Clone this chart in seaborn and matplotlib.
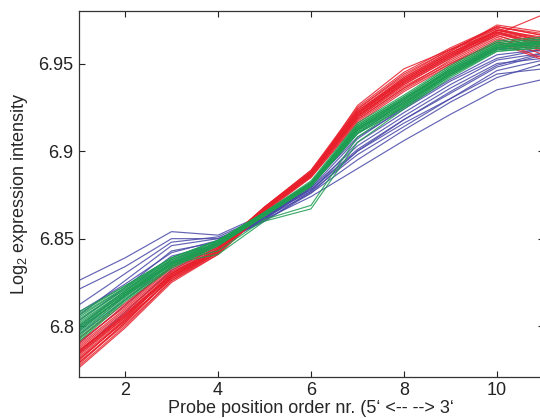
import numpy as np
import pandas as pd
import seaborn as sns
import matplotlib.pyplot as plt

probe_pos = list(range(1, 12))

blue_lines = [
    [6.826, 6.839, 6.854, 6.852, 6.864, 6.878, 6.900, 6.918, 6.933, 6.948, 6.955],
    [6.821, 6.834, 6.850, 6.850, 6.862, 6.876, 6.895, 6.912, 6.928, 6.942, 6.950],
    [6.806, 6.826, 6.846, 6.850, 6.861, 6.874, 6.890, 6.906, 6.921, 6.935, 6.941],
    [6.803, 6.822, 6.843, 6.848, 6.860, 6.877, 6.905, 6.922, 6.938, 6.952, 6.956],
    [6.800, 6.820, 6.840, 6.847, 6.861, 6.879, 6.907, 6.925, 6.941, 6.955, 6.958],
    [6.797, 6.818, 6.838, 6.847, 6.860, 6.876, 6.900, 6.916, 6.930, 6.944, 6.947],
    [6.795, 6.815, 6.836, 6.848, 6.861, 6.880, 6.910, 6.928, 6.944, 6.958, 6.960],
    [6.790, 6.812, 6.834, 6.847, 6.862, 6.879, 6.903, 6.920, 6.936, 6.950, 6.953],
    [6.808, 6.824, 6.842, 6.849, 6.862, 6.881, 6.908, 6.924, 6.940, 6.953, 6.958],
    [6.812, 6.830, 6.848, 6.851, 6.863, 6.877, 6.898, 6.914, 6.930, 6.946, 6.952],
    [6.799, 6.817, 6.836, 6.846, 6.861, 6.882, 6.912, 6.930, 6.946, 6.959, 6.957],
    [6.785, 6.808, 6.832, 6.845, 6.862, 6.878, 6.901, 6.918, 6.934, 6.949, 6.956],
]

red_lines = [
    [6.776, 6.799, 6.825, 6.841, 6.866, 6.886, 6.918, 6.936, 6.952, 6.966, 6.958],
    [6.779, 6.801, 6.826, 6.842, 6.867, 6.887, 6.920, 6.938, 6.953, 6.967, 6.960],
    [6.781, 6.803, 6.828, 6.843, 6.867, 6.888, 6.922, 6.940, 6.955, 6.969, 6.963],
    [6.783, 6.805, 6.829, 6.843, 6.866, 6.886, 6.921, 6.941, 6.956, 6.970, 6.964],
    [6.785, 6.806, 6.830, 6.844, 6.868, 6.888, 6.923, 6.942, 6.957, 6.971, 6.966],
    [6.787, 6.808, 6.831, 6.844, 6.867, 6.887, 6.924, 6.943, 6.958, 6.970, 6.962],
    [6.789, 6.810, 6.832, 6.845, 6.868, 6.889, 6.925, 6.945, 6.959, 6.971, 6.967],
    [6.791, 6.811, 6.833, 6.845, 6.867, 6.886, 6.919, 6.937, 6.951, 6.965, 6.955],
    [6.778, 6.802, 6.828, 6.843, 6.866, 6.885, 6.917, 6.935, 6.950, 6.964, 6.957],
    [6.780, 6.804, 6.830, 6.844, 6.868, 6.889, 6.923, 6.941, 6.956, 6.968, 6.961],
    [6.784, 6.806, 6.828, 6.842, 6.866, 6.886, 6.920, 6.939, 6.954, 6.969, 6.965],
    [6.786, 6.807, 6.829, 6.843, 6.867, 6.888, 6.922, 6.942, 6.957, 6.972, 6.968],
    [6.782, 6.804, 6.827, 6.842, 6.866, 6.887, 6.926, 6.947, 6.958, 6.968, 6.959],
    [6.777, 6.800, 6.826, 6.841, 6.865, 6.885, 6.916, 6.934, 6.949, 6.963, 6.953],
    [6.788, 6.809, 6.831, 6.844, 6.868, 6.888, 6.921, 6.940, 6.955, 6.967, 6.978],
    [6.790, 6.812, 6.834, 6.846, 6.867, 6.887, 6.920, 6.939, 6.954, 6.966, 6.958],
    [6.781, 6.803, 6.827, 6.842, 6.866, 6.886, 6.919, 6.938, 6.953, 6.967, 6.962],
    [6.785, 6.807, 6.830, 6.843, 6.867, 6.887, 6.922, 6.941, 6.956, 6.969, 6.964],
    [6.793, 6.813, 6.834, 6.846, 6.867, 6.886, 6.918, 6.936, 6.950, 6.962, 6.952],
    [6.779, 6.802, 6.828, 6.843, 6.867, 6.888, 6.924, 6.944, 6.958, 6.971, 6.966],
    [6.784, 6.805, 6.829, 6.843, 6.866, 6.886, 6.920, 6.939, 6.954, 6.968, 6.961],
    [6.786, 6.806, 6.830, 6.844, 6.867, 6.887, 6.921, 6.940, 6.955, 6.968, 6.963],
]

green_lines = [
    [6.791, 6.814, 6.833, 6.846, 6.863, 6.880, 6.910, 6.925, 6.943, 6.958, 6.960],
    [6.794, 6.816, 6.834, 6.846, 6.864, 6.881, 6.912, 6.927, 6.945, 6.959, 6.961],
    [6.796, 6.817, 6.835, 6.847, 6.864, 6.881, 6.913, 6.928, 6.946, 6.960, 6.962],
    [6.798, 6.818, 6.836, 6.847, 6.863, 6.880, 6.914, 6.930, 6.947, 6.961, 6.963],
    [6.800, 6.819, 6.836, 6.848, 6.865, 6.882, 6.915, 6.931, 6.948, 6.962, 6.964],
    [6.802, 6.820, 6.837, 6.848, 6.864, 6.881, 6.913, 6.929, 6.946, 6.960, 6.961],
    [6.804, 6.821, 6.838, 6.849, 6.865, 6.882, 6.912, 6.927, 6.944, 6.958, 6.960],
    [6.806, 6.822, 6.839, 6.849, 6.864, 6.880, 6.911, 6.926, 6.944, 6.959, 6.963],
    [6.808, 6.823, 6.839, 6.849, 6.865, 6.883, 6.916, 6.932, 6.949, 6.963, 6.965],
    [6.797, 6.818, 6.835, 6.847, 6.864, 6.881, 6.913, 6.929, 6.947, 6.961, 6.962],
    [6.799, 6.819, 6.836, 6.841, 6.860, 6.867, 6.905, 6.924, 6.942, 6.957, 6.959],
    [6.801, 6.820, 6.837, 6.843, 6.861, 6.869, 6.908, 6.926, 6.944, 6.958, 6.960],
    [6.793, 6.815, 6.834, 6.846, 6.863, 6.880, 6.911, 6.926, 6.944, 6.959, 6.961],
    [6.795, 6.817, 6.835, 6.847, 6.864, 6.882, 6.914, 6.930, 6.947, 6.961, 6.963],
    [6.803, 6.821, 6.837, 6.848, 6.865, 6.881, 6.912, 6.928, 6.945, 6.959, 6.962],
    [6.805, 6.822, 6.838, 6.848, 6.864, 6.880, 6.910, 6.925, 6.943, 6.957, 6.959],
    [6.798, 6.818, 6.836, 6.847, 6.865, 6.882, 6.915, 6.931, 6.948, 6.962, 6.964],
    [6.800, 6.819, 6.836, 6.847, 6.864, 6.881, 6.913, 6.929, 6.946, 6.960, 6.962],
    [6.792, 6.815, 6.834, 6.846, 6.863, 6.880, 6.912, 6.927, 6.945, 6.959, 6.961],
    [6.807, 6.823, 6.839, 6.849, 6.865, 6.882, 6.914, 6.930, 6.946, 6.960, 6.962],
]

groups = {'blue': blue_lines, 'red': red_lines, 'green': green_lines}
colors = {'blue': '#4848a8', 'red': '#e8202c', 'green': '#1e9e52'}

rows = []
for g, lines in groups.items():
    for i, vals in enumerate(lines):
        for p, v in zip(probe_pos, vals):
            rows.append((g, f'{g}{i}', p, v))
df = pd.DataFrame(rows, columns=['group', 'probe', 'pos', 'intensity'])

sns.set_style('ticks')
plt.rcParams['font.family'] = ['Liberation Sans', 'DejaVu Sans']
plt.rcParams['mathtext.fontset'] = 'custom'
plt.rcParams['mathtext.rm'] = 'Liberation Sans'
plt.rcParams['mathtext.it'] = 'Liberation Sans:italic'

fig = plt.figure(figsize=(5.4, 4.18), dpi=100)
ax = fig.add_axes([78.5 / 540, 1 - 377 / 418, 465 / 540, 366 / 418])

sns.lineplot(data=df, x='pos', y='intensity', hue='group', units='probe',
             estimator=None, palette=colors, hue_order=['blue', 'red', 'green'],
             linewidth=0.85, alpha=0.85, legend=False, ax=ax)

ax.set_xlim(1, 11)
ax.set_ylim(6.771, 6.98)
ax.set_xticks([2, 4, 6, 8, 10])
ax.set_yticks([6.8, 6.85, 6.9, 6.95])
ax.set_yticklabels(['6.8', '6.85', '6.9', '6.95'])
ax.tick_params(direction='in', length=4, width=0.8, labelsize=13,
               top=True, right=True, colors='#222222')
for s in ax.spines.values():
    s.set_color('#333333')
    s.set_linewidth(0.9)
ax.set_xlabel("Probe position order nr. (5\u2018 <-- --> 3\u2018", fontsize=13, labelpad=1)
ax.set_ylabel(r'Log$_2$ expression intensity', fontsize=13, labelpad=6)

fig.savefig('out.png', dpi=100)
